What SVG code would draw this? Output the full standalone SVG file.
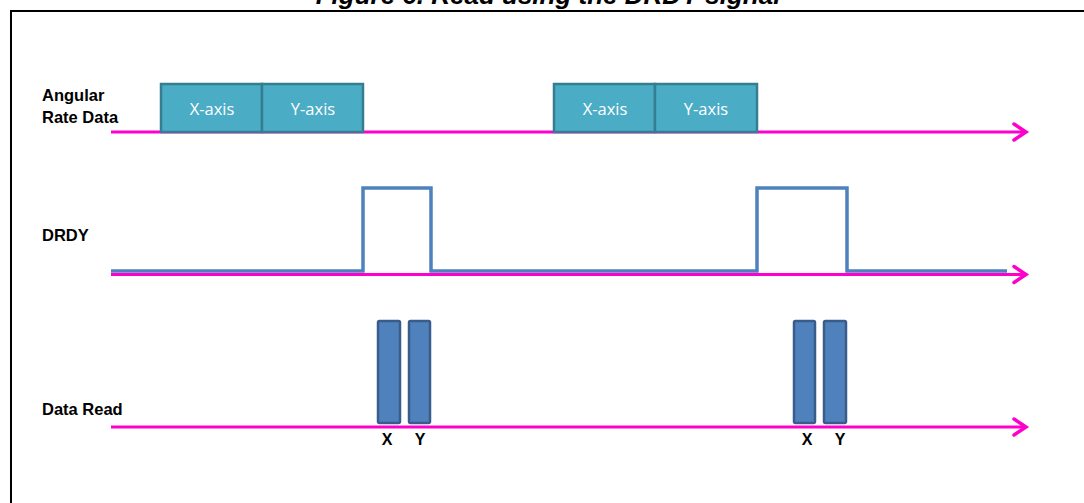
<svg xmlns="http://www.w3.org/2000/svg" width="1084" height="503" viewBox="0 0 1084 503">
<defs>
<style>
.axis{stroke:#FF00CC;stroke-width:3;fill:none}
.head{stroke:#FF00CC;stroke-width:3.5;fill:none;stroke-linecap:round;stroke-linejoin:miter}
.box{fill:#4BACC6;stroke:#357D91;stroke-width:2.5}
.boxt{font-family:"Open Sans","Liberation Sans",sans-serif;font-size:16.5px;fill:#FFFFFF;text-anchor:middle}
.lbl{font-family:"Liberation Sans",Arial,sans-serif;font-size:16.5px;font-weight:bold;fill:#000000}
.bar{fill:#4F81BD;stroke:#385D8A;stroke-width:2.5}
.xy{font-family:"Liberation Sans",Arial,sans-serif;font-size:16px;font-weight:bold;fill:#000000;text-anchor:middle}
.sig{stroke:#4F81BD;stroke-width:3.5;fill:none;stroke-linejoin:miter}
</style>
</defs>
<g id="frame">
<path d="M11,503 V11 H1084" fill="none" stroke="#000" stroke-width="2"/>
<text x="548" y="4" font-family="Liberation Sans, Arial, sans-serif" font-size="26" font-weight="bold" font-style="italic" text-anchor="middle" fill="#000">Figure 6. Read using the DRDY signal</text>
</g>
<g id="labels">
<text class="lbl" x="42" y="101">Angular</text>
<text class="lbl" x="42" y="123">Rate Data</text>
<text class="lbl" x="42" y="241">DRDY</text>
<text class="lbl" x="42" y="415">Data Read</text>
</g>
<g id="connectors">
<line class="axis" x1="111" y1="132" x2="1026" y2="132"/>
<polyline class="head" points="1014,124 1026,132 1014,140"/>
<path class="sig" d="M111,271 H363 V188 H431 V271 H757 V188 H847 V271 H1007"/>
<line class="axis" x1="111" y1="274.5" x2="1026" y2="274.5"/>
<polyline class="head" points="1014,266.5 1026,274.5 1014,282.5"/>
<line class="axis" x1="111" y1="427" x2="1026" y2="427"/>
<polyline class="head" points="1014,419 1026,427 1014,435"/>
</g>
<g id="angular1">
<rect class="box" x="161" y="84" width="101" height="48"/>
<text class="boxt" x="212" y="115">X-axis</text>
<rect class="box" x="262" y="84" width="101" height="48"/>
<text class="boxt" x="313" y="115">Y-axis</text>
</g>
<g id="angular2">
<rect class="box" x="554" y="84" width="101" height="48"/>
<text class="boxt" x="605" y="115">X-axis</text>
<rect class="box" x="655" y="84" width="102" height="48"/>
<text class="boxt" x="706" y="115">Y-axis</text>
</g>
<g id="read1">
<rect class="bar" x="378" y="321" width="22" height="102" rx="1.5"/>
<rect class="bar" x="409" y="321" width="21" height="102" rx="1.5"/>
<text class="xy" x="387" y="445">X</text>
<text class="xy" x="420" y="445">Y</text>
</g>
<g id="read2">
<rect class="bar" x="794" y="321" width="21" height="102" rx="1.5"/>
<rect class="bar" x="824" y="321" width="22" height="102" rx="1.5"/>
<text class="xy" x="807" y="445">X</text>
<text class="xy" x="840" y="445">Y</text>
</g>
</svg>
